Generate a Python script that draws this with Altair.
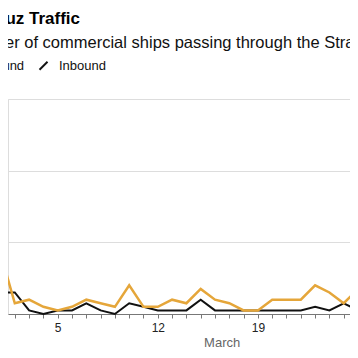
import altair as alt
import pandas as pd

# ---- data (ships per day, March) ----
days = list(range(1, 27))
outbound = [17, 3, 4, 2, 1, 2, 4, 3, 2, 8, 2, 2, 4, 3, 7, 4, 3, 1, 1, 4, 4, 4, 8, 6, 3, 7]
inbound = [6, 6, 1, 0, 1, 1, 3, 1, 0, 3, 2, 1, 1, 1, 4, 1, 1, 1, 1, 1, 1, 1, 2, 1, 3, 1]
series_names = ["Outbound", "Inbound"]
series_colors = ["#e5a63a", "#111111"]
labeled_days = [5, 12, 19, 26]
y_grid = [20, 40, 60]
month_label = "March"
month_mid_day = 16.5  # centre of the month label, in day units

title_text = "Hormuz Traffic"
subtitle_text = "Number of commercial ships passing through the Strait of Hormuz"

FONT = "Liberation Sans"

df = pd.DataFrame({
    "day": days * 2,
    "ships": outbound + inbound,
    "series": ["Outbound"] * len(days) + ["Inbound"] * len(days),
})
month_df = pd.DataFrame({"day": [month_mid_day], "label": [month_label]})

# visible window of the (cropped) original chart
x_scale = alt.Scale(domain=[1.5245, 25.4406], nice=False, zero=False)

# daily ticks, no labels
tick_axis = alt.Axis(
    title=None,
    orient="bottom",
    values=days,
    labels=False,
    tickSize=4,
    tickColor="#777777",
    domainColor="#777777",
    domainWidth=1,
    grid=False,
)
# weekly labels only
label_axis = alt.Axis(
    title=None,
    orient="bottom",
    values=labeled_days,
    format="d",
    ticks=False,
    domain=False,
    grid=False,
    labelOverlap=False,
    labelFlush=False,
    labelFont=FONT,
    labelFontSize=12,
    labelColor="#222222",
    labelPadding=8,
)
y_axis = alt.Axis(
    title=None,
    values=y_grid,
    labels=False,
    ticks=False,
    domain=False,
    grid=True,
    gridColor="#dddddd",
    gridWidth=1,
)
legend = alt.Legend(
    orient="none",
    legendX=-63,
    legendY=-40,
    direction="horizontal",
    title=None,
    symbolType="M-1,1L1,-1",
    symbolSize=64,
    symbolStrokeWidth=2,
    labelFont=FONT,
    labelFontSize=13,
    labelColor="#111111",
    labelOffset=9,
    columnPadding=10,
    padding=0,
)

y_enc = alt.Y("ships:Q", scale=alt.Scale(domain=[0, 60], nice=False), axis=y_axis)
color_enc = alt.Color("series:N", scale=alt.Scale(domain=series_names, range=series_colors), legend=legend)

inb = alt.Chart(df).transform_filter(alt.datum.series == "Inbound").mark_line(strokeWidth=2).encode(
    x=alt.X("day:Q", scale=x_scale, axis=tick_axis),
    y=y_enc,
    color=color_enc,
)
outb = alt.Chart(df).transform_filter(alt.datum.series == "Outbound").mark_line(strokeWidth=2.5).encode(
    x=alt.X("day:Q", scale=x_scale, axis=label_axis),
    y=y_enc,
    color=color_enc,
)

month = alt.Chart(month_df).mark_text(
    font=FONT, fontSize=13, color="#666666", align="center", baseline="alphabetic"
).encode(
    x=alt.X("day:Q", scale=x_scale, axis=None),
    y=alt.value(247.5),
    text="label:N",
)

chart = alt.layer(inb, outb, month).resolve_axis(x="independent").properties(
    width=342,
    height=215,
    autosize=alt.AutoSizeParams(type="none"),
    padding={"left": 0, "top": 91, "right": 0, "bottom": 36},
    title=alt.TitleParams(
        text=title_text,
        subtitle=subtitle_text,
        anchor="start",
        frame="group",
        dx=-47,
        offset=7,
        font=FONT,
        fontSize=17,
        fontWeight="bold",
        color="#000000",
        subtitleFont=FONT,
        subtitleFontSize=16.5,
        subtitleColor="#111111",
        subtitlePadding=7,
    ),
).configure_view(stroke=None).configure(background="white")

chart.save("out.html", embed_options={"renderer": "svg", "actions": False})
